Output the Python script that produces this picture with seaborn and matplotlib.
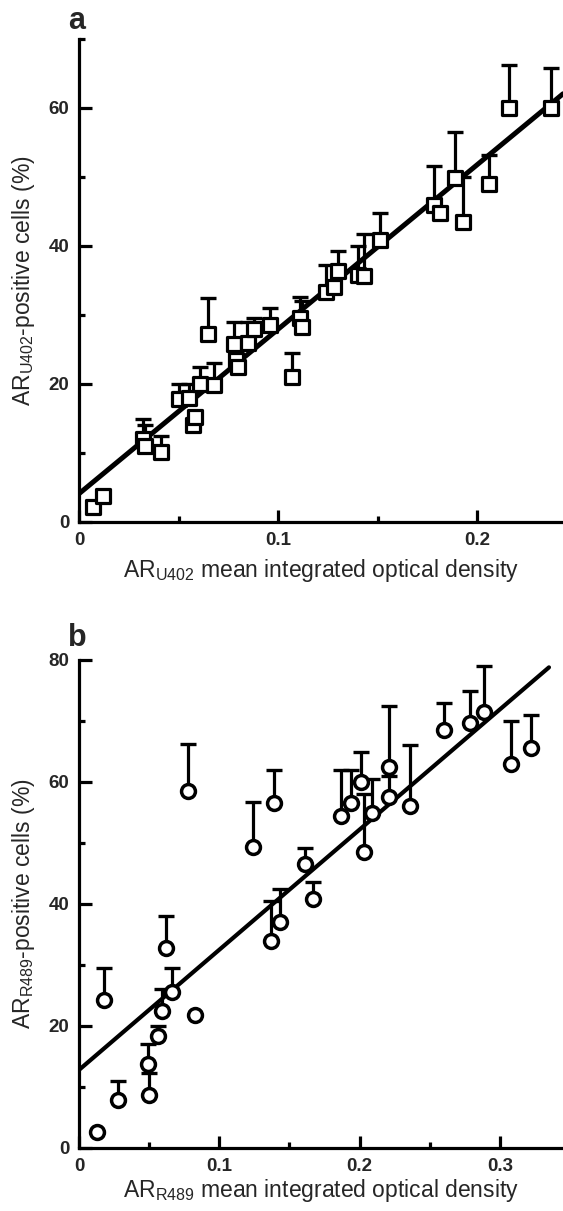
import numpy as np
import pandas as pd
import matplotlib
matplotlib.use("Agg")
import matplotlib.pyplot as plt
import seaborn as sns
from matplotlib.ticker import FixedLocator

# ---------------- data: panel a (AR U402) ----------------
a_x = [0.007, 0.012, 0.032, 0.033, 0.041, 0.050, 0.055, 0.057, 0.058, 0.061,
       0.065, 0.068, 0.078, 0.079, 0.080, 0.085, 0.088, 0.096, 0.107, 0.111,
       0.112, 0.124, 0.128, 0.130, 0.140, 0.143, 0.151, 0.178, 0.181, 0.189,
       0.193, 0.206, 0.216, 0.237]
a_y = [2.2, 3.8, 12.0, 11.0, 10.2, 17.8, 18.0, 14.0, 15.2, 20.0,
       27.3, 19.8, 25.8, 23.5, 22.5, 26.0, 28.0, 28.5, 21.0, 29.5,
       28.2, 33.4, 34.0, 36.4, 35.8, 35.6, 40.8, 46.0, 44.8, 49.8,
       43.5, 49.0, 60.0, 60.0]
a_top = [2.2, 3.8, 15.0, 14.0, 12.5, 20.0, 20.0, 14.0, 15.2, 22.5,
         32.5, 23.0, 29.0, 23.5, 22.5, 29.0, 29.5, 31.0, 24.5, 32.6,
         32.0, 37.2, 34.0, 39.3, 40.0, 41.8, 44.8, 51.6, 44.8, 56.5,
         50.0, 53.2, 66.3, 65.8]
a_fit_intercept = 4.1
a_fit_slope = 238.5

# ---------------- data: panel b (AR R489) ----------------
b_x = [0.013, 0.018, 0.028, 0.049, 0.050, 0.056, 0.059, 0.062, 0.066, 0.083,
       0.078, 0.124, 0.137, 0.139, 0.143, 0.161, 0.167, 0.187, 0.194, 0.201,
       0.203, 0.209, 0.221, 0.221, 0.236, 0.260, 0.279, 0.289, 0.308, 0.322]
b_y = [2.6, 24.2, 7.8, 13.8, 8.7, 18.3, 22.5, 32.8, 25.6, 21.8,
       58.5, 49.4, 34.0, 56.6, 37.0, 46.5, 40.8, 54.5, 56.5, 60.0,
       48.5, 55.0, 62.5, 57.5, 56.0, 68.5, 69.7, 71.5, 63.0, 65.5]
b_top = [2.6, 29.5, 11.0, 17.0, 12.3, 20.0, 26.0, 38.0, 29.5, 21.8,
         66.3, 56.7, 40.5, 62.0, 42.5, 49.2, 43.6, 62.0, 62.0, 65.0,
         58.0, 60.5, 72.5, 61.0, 66.0, 73.0, 75.0, 79.0, 70.0, 71.0]
b_fit_intercept = 12.8
b_fit_slope = 197.0

a_xticks = [0, 0.1, 0.2]
a_xticklabels = ["0", "0.1", "0.2"]
a_yticks = [0, 20, 40, 60]
b_xticks = [0, 0.1, 0.2, 0.3]
b_xticklabels = ["0", "0.1", "0.2", "0.3"]
b_yticks = [0, 20, 40, 60, 80]

sns.set_theme(style="white")
plt.rcParams["font.family"] = ["Liberation Sans", "DejaVu Sans"]
plt.rcParams["mathtext.default"] = "regular"

fig = plt.figure(figsize=(5.63, 12.11), dpi=100)

LW = 2.3
LABEL_FS = 16.5


def style_axes(ax, xlim, ylim, xticks, xlabels, yticks, xminor, yminor):
    ax.set_xlim(*xlim)
    ax.set_ylim(*ylim)
    for s in ["top", "right"]:
        ax.spines[s].set_visible(False)
    for s in ["left", "bottom"]:
        ax.spines[s].set_linewidth(LW)
        ax.spines[s].set_color("black")
    ax.set_xticks(xticks)
    ax.set_xticklabels(xlabels)
    ax.set_yticks(yticks)
    ax.set_yticklabels([str(t) for t in yticks])
    ax.xaxis.set_minor_locator(FixedLocator(xminor))
    ax.yaxis.set_minor_locator(FixedLocator(yminor))
    ax.tick_params(axis="both", which="major", direction="in", length=9,
                   width=LW, color="black", labelsize=13.5, pad=7,
                   bottom=True, left=True)
    ax.tick_params(axis="both", which="minor", direction="in", length=4.5,
                   width=LW, color="black", bottom=True, left=True)
    for lab in ax.get_xticklabels() + ax.get_yticklabels():
        lab.set_fontweight("bold")
    ax.set_facecolor("white")


# ---------------- panel a ----------------
ax1 = fig.add_axes([79 / 563, 1 - 522 / 1211, 1 - 79 / 563, (522 - 39) / 1211])
df_a = pd.DataFrame({"x": a_x, "y": a_y, "top": a_top})
ax1.errorbar(df_a["x"], df_a["y"],
             yerr=[np.zeros(len(df_a)), df_a["top"] - df_a["y"]],
             fmt="none", ecolor="black", elinewidth=2.3, capsize=6,
             capthick=2.4, zorder=2)
fx = np.array([0.0, 0.243])
sns.lineplot(x=fx, y=a_fit_intercept + a_fit_slope * fx, ax=ax1,
             color="black", linewidth=3.6, zorder=3)
sns.scatterplot(data=df_a, x="x", y="y", ax=ax1, marker="s", s=95,
                facecolor="white", edgecolor="black", linewidth=2.3,
                zorder=4, clip_on=False)
style_axes(ax1, (0, 0.243), (0, 70), a_xticks, a_xticklabels, a_yticks,
           [0.05, 0.15], [10, 30, 50, 70])
ax1.set_xlabel(r"AR$_{\mathregular{U402}}$ mean integrated optical density",
               fontsize=LABEL_FS, labelpad=6)
ax1.set_ylabel(r"AR$_{\mathregular{U402}}$-positive cells (%)",
               fontsize=LABEL_FS, labelpad=8)
fig.text(68 / 563, 1 - 21 / 1211, "a", fontsize=22, fontweight="bold",
         ha="left", va="center")

# ---------------- panel b ----------------
ax2 = fig.add_axes([79 / 563, 1 - 1148 / 1211, 1 - 79 / 563, (1148 - 660) / 1211])
df_b = pd.DataFrame({"x": b_x, "y": b_y, "top": b_top})
ax2.errorbar(df_b["x"], df_b["y"],
             yerr=[np.zeros(len(df_b)), df_b["top"] - df_b["y"]],
             fmt="none", ecolor="black", elinewidth=2.3, capsize=6,
             capthick=2.4, zorder=2)
fx2 = np.array([0.0, 0.335])
sns.lineplot(x=fx2, y=b_fit_intercept + b_fit_slope * fx2, ax=ax2,
             color="black", linewidth=3.0, zorder=3)
sns.scatterplot(data=df_b, x="x", y="y", ax=ax2, marker="o", s=100,
                facecolor="white", edgecolor="black", linewidth=2.5,
                zorder=4, clip_on=False)
style_axes(ax2, (0, 0.345), (0, 80), b_xticks, b_xticklabels, b_yticks,
           [0.05, 0.15, 0.25], [10, 30, 50, 70])
ax2.set_xlabel(r"AR$_{\mathregular{R489}}$ mean integrated optical density",
               fontsize=LABEL_FS, labelpad=2)
ax2.set_ylabel(r"AR$_{\mathregular{R489}}$-positive cells (%)",
               fontsize=LABEL_FS, labelpad=8)
fig.text(68 / 563, 1 - 638 / 1211, "b", fontsize=22, fontweight="bold",
         ha="left", va="center")

fig.savefig("out.png", dpi=100, facecolor="white")
